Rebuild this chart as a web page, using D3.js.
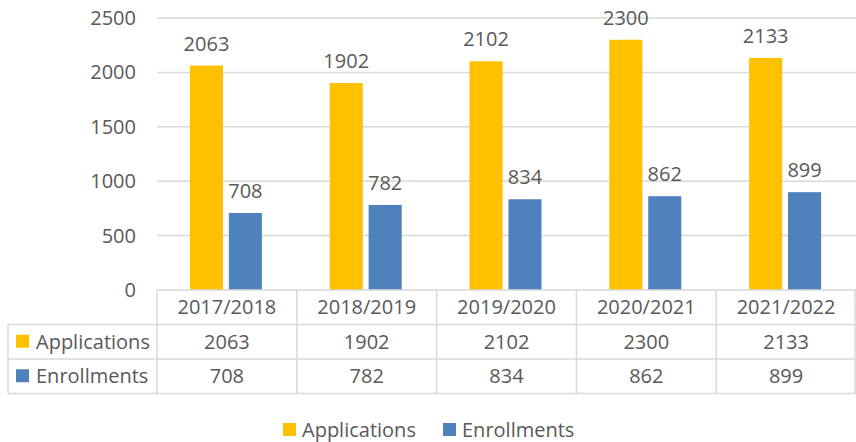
<!DOCTYPE html>
<html>
<head>
<meta charset="utf-8">
<script src="https://cdn.jsdelivr.net/npm/d3@7"></script>
<style>
  body { margin: 0; background: #fff; }
  svg { display: block; font-family: "Open Sans", sans-serif; }
</style>
</head>
<body>
<svg id="chart"></svg>
<script>
// Chart data
const years = ["2017/2018", "2018/2019", "2019/2020", "2020/2021", "2021/2022"];
const seriesNames = ["Applications", "Enrollments"];
const applications = [2063, 1902, 2102, 2300, 2133];
const enrollments = [708, 782, 834, 862, 899];
const yTicks = [0, 500, 1000, 1500, 2000, 2500];

const colors = ["#FFC000", "#4F81BD"];
const textColor = "#595959";
const lineColor = "#d9d9d9";

const W = 856, H = 442;
const plot = { left: 157, right: 856, top: 18, bottom: 290 };
const rowH = 34.5;
const groupW = 72;

const svg = d3.select("#chart").attr("width", W).attr("height", H);

const x0 = d3.scaleBand().domain(years).range([plot.left, plot.right]);
const x1 = d3.scaleBand().domain(seriesNames).range([0, groupW]).paddingInner(0.15);
const y = d3.scaleLinear().domain([0, 2500]).range([plot.bottom, plot.top]);

const values = { Applications: applications, Enrollments: enrollments };

// Gridlines
svg.append("g").selectAll("line")
    .data(yTicks.filter(d => d > 0))
    .enter().append("line")
    .attr("x1", plot.left).attr("x2", plot.right)
    .attr("y1", d => y(d)).attr("y2", d => y(d))
    .attr("stroke", lineColor).attr("stroke-width", 1.5);

// Y tick labels
svg.append("g").selectAll("text")
    .data(yTicks)
    .enter().append("text")
    .attr("x", 136)
    .attr("y", d => y(d))
    .attr("dy", "0.35em")
    .attr("text-anchor", "end")
    .attr("font-size", 20)
    .attr("fill", textColor)
    .text(d => d);

// Bars and value labels
const groups = svg.append("g").selectAll("g")
    .data(years)
    .enter().append("g")
    .attr("transform", d => `translate(${x0(d) + (x0.bandwidth() - groupW) / 2 - 1},0)`);

seriesNames.forEach((s, si) => {
    groups.append("rect")
        .attr("x", x1(s))
        .attr("width", x1.bandwidth())
        .attr("y", (d, i) => y(values[s][i]))
        .attr("height", (d, i) => y(0) - y(values[s][i]))
        .attr("fill", colors[si]);
    groups.append("text")
        .attr("x", x1(s) + x1.bandwidth() / 2)
        .attr("y", (d, i) => y(values[s][i]) - 15)
        .attr("text-anchor", "middle")
        .attr("font-size", 20)
        .attr("fill", textColor)
        .text((d, i) => values[s][i]);
});

// Data table
const table = svg.append("g");
const tableLeft = 8;
const tableBottom = plot.bottom + rowH * 3;

// horizontal lines
table.append("line")
    .attr("x1", plot.left).attr("x2", plot.right)
    .attr("y1", plot.bottom).attr("y2", plot.bottom)
    .attr("stroke", lineColor).attr("stroke-width", 1.5);
[1, 2, 3].forEach(r => {
    table.append("line")
        .attr("x1", tableLeft).attr("x2", plot.right)
        .attr("y1", plot.bottom + rowH * r).attr("y2", plot.bottom + rowH * r)
        .attr("stroke", lineColor).attr("stroke-width", 1.5);
});
// vertical lines
table.append("line")
    .attr("x1", tableLeft).attr("x2", tableLeft)
    .attr("y1", plot.bottom + rowH).attr("y2", tableBottom)
    .attr("stroke", lineColor).attr("stroke-width", 1.5);
years.forEach(yr => {
    table.append("line")
        .attr("x1", x0(yr)).attr("x2", x0(yr))
        .attr("y1", plot.bottom).attr("y2", tableBottom)
        .attr("stroke", lineColor).attr("stroke-width", 1.5);
});
table.append("line")
    .attr("x1", plot.right - 1).attr("x2", plot.right - 1)
    .attr("y1", plot.bottom).attr("y2", tableBottom)
    .attr("stroke", lineColor).attr("stroke-width", 1.5);

// header row
table.selectAll(".hdr")
    .data(years)
    .enter().append("text")
    .attr("class", "hdr")
    .attr("x", d => x0(d) + x0.bandwidth() / 2)
    .attr("y", plot.bottom + rowH / 2)
    .attr("dy", "0.35em")
    .attr("text-anchor", "middle")
    .attr("font-size", 20)
    .attr("fill", textColor)
    .text(d => d);

// series rows
seriesNames.forEach((s, si) => {
    const cy = plot.bottom + rowH * (si + 1.5);
    table.append("rect")
        .attr("x", 16).attr("y", cy - 7)
        .attr("width", 13).attr("height", 13)
        .attr("fill", colors[si]);
    table.append("text")
        .attr("x", 36).attr("y", cy)
        .attr("dy", "0.35em")
        .attr("font-size", 20)
        .attr("fill", textColor)
        .text(s);
    table.selectAll(".v" + si)
        .data(years)
        .enter().append("text")
        .attr("x", d => x0(d) + x0.bandwidth() / 2)
        .attr("y", cy)
        .attr("dy", "0.35em")
        .attr("text-anchor", "middle")
        .attr("font-size", 20)
        .attr("fill", textColor)
        .text((d, i) => values[s][i]);
});

// Legend
const legendX = [283, 443];
const legend = svg.append("g").selectAll("g")
    .data(seriesNames)
    .enter().append("g")
    .attr("transform", (d, i) => `translate(${legendX[i]},430)`);
legend.append("rect")
    .attr("x", 0).attr("y", -7)
    .attr("width", 13).attr("height", 13)
    .attr("fill", (d, i) => colors[i]);
legend.append("text")
    .attr("x", 19).attr("y", 0)
    .attr("dy", "0.35em")
    .attr("font-size", 20)
    .attr("fill", textColor)
    .text(d => d);
</script>
</body>
</html>
